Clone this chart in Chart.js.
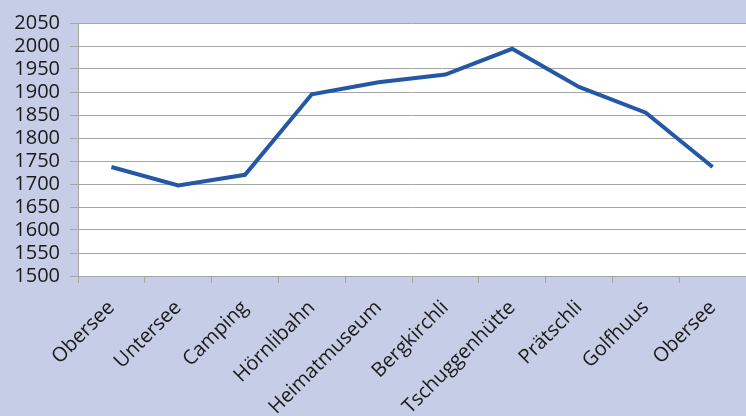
<!DOCTYPE html>
<html>
<head>
<meta charset="utf-8">
<script src="https://cdn.jsdelivr.net/npm/chart.js@4"></script>
<style>
html,body{margin:0;padding:0;background:#c6cde6;}
#wrap{width:746px;height:416px;position:relative;}
</style>
</head>
<body>
<div id="wrap"><canvas id="c" width="746" height="416"></canvas></div>
<script>
const categories = ["Obersee","Untersee","Camping","Hörnlibahn","Heimatmuseum","Bergkirchli","Tschuggenhütte","Prätschli","Golfhuus","Obersee"];
const altitudes = [1737,1697,1720,1895,1921,1938,1994,1911,1855,1737];
const yMin = 1500, yMax = 2050, yStep = 50;

const plotBg = {
  id:'plotBg',
  beforeDraw(chart){
    const {ctx, chartArea:a} = chart;
    ctx.save();
    ctx.fillStyle = '#ffffff';
    ctx.fillRect(a.left, a.top, a.right-a.left, a.bottom-a.top);
    ctx.restore();
  }
};

new Chart(document.getElementById('c'), {
  type:'line',
  data:{
    labels:categories,
    datasets:[{
      data:altitudes,
      borderColor:'#2457a6',
      borderWidth:4,
      pointRadius:0,
      tension:0,
      fill:false
    }]
  },
  options:{
    responsive:false,
    animation:false,
    devicePixelRatio:1,
    layout:{padding:{top:23,right:0,left:0,bottom:0}},
    plugins:{legend:{display:false},tooltip:{enabled:false}},
    scales:{
      x:{
        offset:true,
        grid:{display:true,drawOnChartArea:false,drawTicks:true,tickLength:7,color:'#a6a6a6',lineWidth:1,offset:true},
        border:{color:'#a6a6a6',width:1},
        ticks:{
          minRotation:45,maxRotation:45,autoSkip:false,
          color:'#1a1a1a',
          font:{family:'Open Sans',size:20},
          padding:13
        },
        afterFit(s){ s.height = 140; }
      },
      y:{
        min:yMin,max:yMax,
        grid:{color:'#a6a6a6',lineWidth:1,tickLength:8},
        border:{color:'#a6a6a6',width:1},
        ticks:{
          stepSize:yStep,
          autoSkip:false,
          color:'#1a1a1a',
          font:{family:'Open Sans',size:20},
          padding:10,
          callback:(v)=>String(v)
        },
        afterFit(s){ s.width = 78; }
      }
    }
  },
  plugins:[plotBg]
});
</script>
</body>
</html>
